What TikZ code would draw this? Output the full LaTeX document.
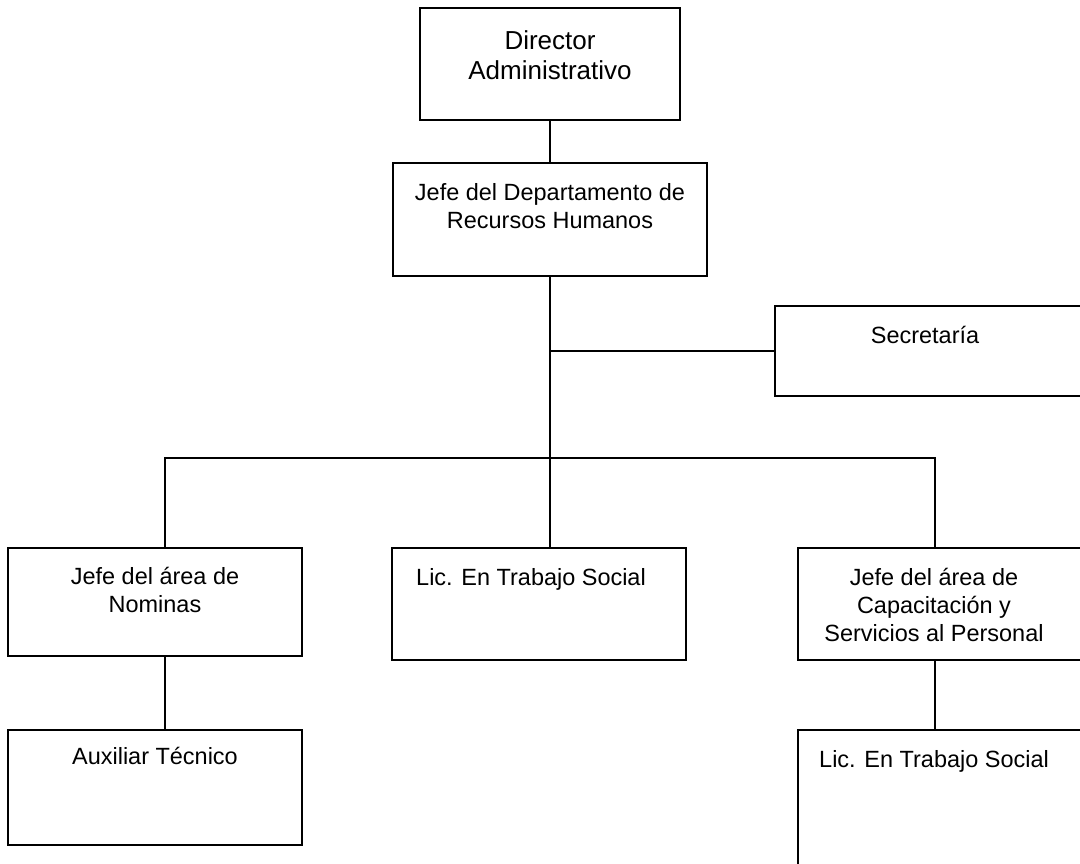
\documentclass[tikz,border=0pt]{standalone}
\usepackage{fontspec}
\setmainfont{Liberation Sans}
\usetikzlibrary{fit,calc}

\tikzset{
  orgbox/.style={draw=black, line width=1.4pt, inner sep=0pt, fill=white},
  boxtext/.style={anchor=north, inner sep=0pt, align=center,
    font=\fontsize{17.6pt}{21pt}\selectfont},
  toptext/.style={anchor=north, inner sep=0pt, align=center,
    font=\fontsize{19.5pt}{22.5pt}\selectfont},
  link/.style={draw=black, line width=1.4pt}
}

\begin{document}
\begin{tikzpicture}[x=0.75pt, y=-0.75pt]
  \useasboundingbox (0,0) rectangle (1080,863);

  % boxes
  \node[orgbox, fit={(420,8) (680,120)}] (dir) {};
  \node[orgbox, fit={(393,163) (707,276)}] (hr) {};
  \node[orgbox, fit={(775,306) (1100,396)}] (sec) {};
  \node[orgbox, fit={(8,548) (302,656)}] (nom) {};
  \node[orgbox, fit={(392,548) (686,660)}] (lic) {};
  \node[orgbox, fit={(798,548) (1100,660)}] (cap) {};
  \node[orgbox, fit={(8,730) (302,845)}] (aux) {};
  \node[orgbox, fit={(798,730) (1100,900)}] (lic2) {};

  % texts
  \node[toptext] (dirT) at ($(dir.north)+(0,23)$) {Director\\Administrativo};
  \node[boxtext] (hrT) at ($(hr.north)+(0,21)$) {Jefe del Departamento de\\Recursos Humanos};
  \node[boxtext] (secT) at (925,326) {Secretaría};
  \node[boxtext] (nomT) at ($(nom.north)+(0,20)$) {Jefe del área de\\Nominas};
  \node[boxtext] (licT) at (531,568) {Lic. En Trabajo Social};
  \node[boxtext] (capT) at (934,568) {Jefe del área de\\Capacitación y\\Servicios al Personal};
  \node[boxtext] (auxT) at ($(aux.north)+(0,18)$) {Auxiliar Técnico};
  \node[boxtext] (lic2T) at (934,750) {Lic. En Trabajo Social};

  % connectors
  \coordinate (busL) at (165,458);
  \coordinate (busR) at (935,458);
  \coordinate (busM) at (hr.south |- busL);

  \draw[link] (dir.south -| hr.south) -- (hr.north);
  \draw[link] (hr.south) -- (busM);
  \draw[link] (sec.west) -- (sec.west -| hr.south);
  \draw[link] (busL |- nom.north) -- (busL) -- (busR) -- (busR |- cap.north);
  \draw[link] (busM) -- (busM |- lic.north);
  \draw[link] (busL |- nom.south) -- (busL |- aux.north);
  \draw[link] (busR |- cap.south) -- (busR |- lic2.north);
\end{tikzpicture}
\end{document}
